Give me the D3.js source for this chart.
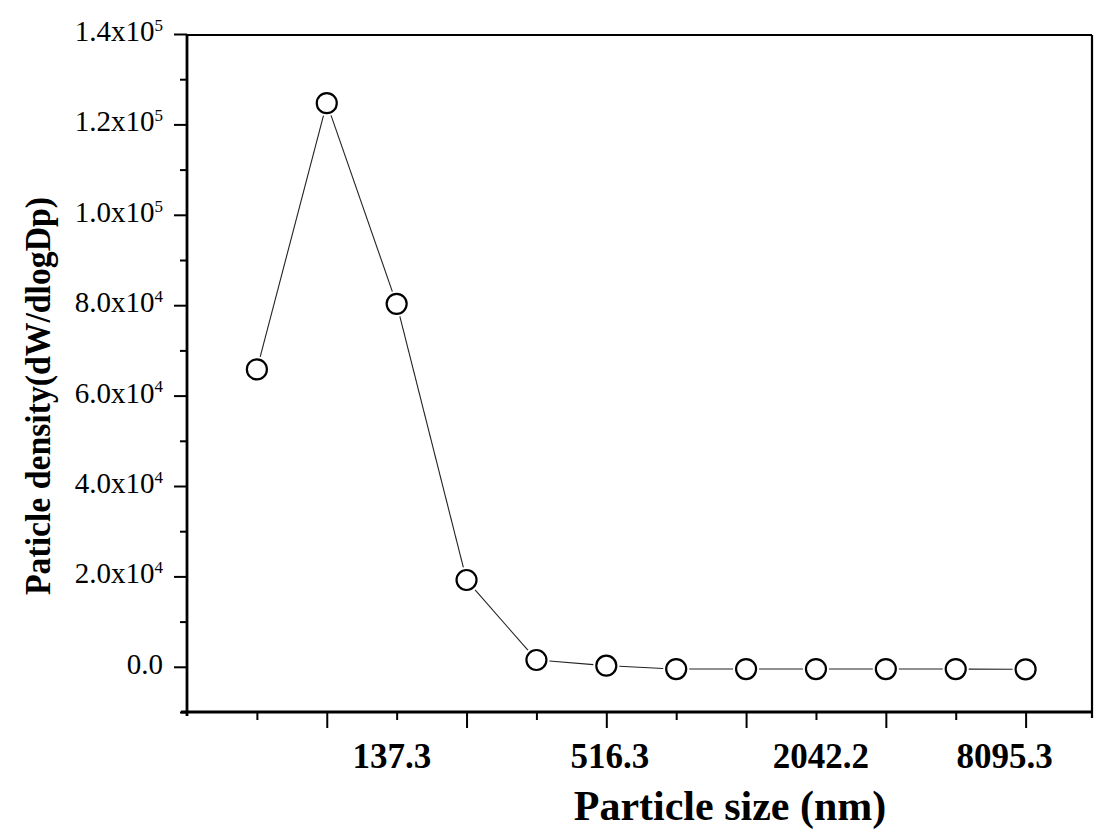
<!DOCTYPE html>
<html>
<head>
<meta charset="utf-8">
<script src="https://cdn.jsdelivr.net/npm/d3@7"></script>
<style>
    body { margin: 0; background: #fff; }
    svg { display: block; }
    .domain { display: none; }
</style>
</head>
<body>
<svg id="chart" width="1098" height="832"></svg>
<script>
d3.select(window).on('load', init);

// one point per impactor stage, x is the stage index
var stage_index = [0, 1, 2, 3, 4, 5, 6, 7, 8, 9, 10, 11];
var density = [65800, 124700, 80300, 19200, 1500, 250, -500, -500, -500, -500, -500, -550];

// labelled sizes and where they sit on the stage axis
var size_labels = ["137.3", "516.3", "2042.2", "8095.3"];
var size_label_pos = [1.93, 5.05, 8.07, 10.7];

var y_major = [0, 20000, 40000, 60000, 80000, 100000, 120000, 140000];
var y_minor = [-10000, 10000, 30000, 50000, 70000, 90000, 110000, 130000];
var y_label_base = ["0.0", "2.0x10", "4.0x10", "6.0x10", "8.0x10", "1.0x10", "1.2x10", "1.4x10"];
var y_label_exp = ["", "4", "4", "4", "4", "5", "5", "5"];

var x_long = [1, 3, 5, 7, 9, 11];
var x_short = [0, 2, 4, 6, 8, 10];

var serif = "'Liberation Serif', 'Times New Roman', serif";

function init() {
    var canvas = d3.select('#chart');

    var plot = {left: 187, right: 1092, top: 35, bottom: 712};

    var xScale = d3.scaleLinear()
        .domain([-1, 11.95])
        .range([plot.left, plot.right]);

    var yScale = d3.scaleLinear()
        .domain([-10000, 140000])
        .range([plot.bottom, plot.top - 1]);

    // frame top + right
    canvas.append("line")
        .attr("x1", plot.left).attr("x2", plot.right)
        .attr("y1", plot.top).attr("y2", plot.top)
        .style("stroke", "#000").style("stroke-width", 2.2);
    canvas.append("line")
        .attr("x1", plot.right).attr("x2", plot.right)
        .attr("y1", plot.top).attr("y2", plot.bottom + 6)
        .style("stroke", "#000").style("stroke-width", 2.2);

    // y ticks
    canvas.append("g")
        .attr("transform", "translate(" + plot.left + ",0)")
        .call(d3.axisLeft(yScale).tickValues(y_major).tickSize(13).tickFormat(""))
        .selectAll("line").style("stroke-width", 2);
    canvas.append("g")
        .attr("transform", "translate(" + plot.left + ",0)")
        .call(d3.axisLeft(yScale).tickValues(y_minor).tickSize(7).tickFormat(""))
        .selectAll("line").style("stroke-width", 2);

    // x ticks
    canvas.append("g")
        .attr("transform", "translate(0," + plot.bottom + ")")
        .call(d3.axisBottom(xScale).tickValues(x_long).tickSize(16).tickFormat(""))
        .selectAll("line").style("stroke-width", 2);
    canvas.append("g")
        .attr("transform", "translate(0," + plot.bottom + ")")
        .call(d3.axisBottom(xScale).tickValues(x_short).tickSize(8).tickFormat(""))
        .selectAll("line").style("stroke-width", 2);

    // axis lines
    canvas.append("line")
        .attr("x1", plot.left).attr("x2", plot.left)
        .attr("y1", plot.top).attr("y2", plot.bottom + 4)
        .style("stroke", "#000").style("stroke-width", 2.8);
    canvas.append("line")
        .attr("x1", plot.left - 6).attr("x2", plot.right)
        .attr("y1", plot.bottom).attr("y2", plot.bottom)
        .style("stroke", "#000").style("stroke-width", 2.8);

    // y tick labels with superscript
    var ylab = canvas.selectAll(".ylab")
        .data(y_major)
        .enter()
        .append("text")
        .attr("class", "ylab")
        .attr("x", 163)
        .attr("y", function(d){ return yScale(d) + 7; })
        .attr("text-anchor", "end")
        .style("font-family", serif)
        .style("font-size", "29px")
        .style("fill", "#000");
    ylab.append("tspan")
        .text(function(d, i){ return y_label_base[i]; });
    ylab.append("tspan")
        .attr("dy", "-0.6em")
        .style("font-size", "17px")
        .text(function(d, i){ return y_label_exp[i]; });

    // x tick labels
    canvas.selectAll(".xlab")
        .data(size_labels)
        .enter()
        .append("text")
        .attr("class", "xlab")
        .attr("x", function(d, i){ return xScale(size_label_pos[i]); })
        .attr("y", 768)
        .attr("text-anchor", "middle")
        .style("font-family", serif)
        .style("font-weight", "bold")
        .style("font-size", "35px")
        .text(function(d){ return d; });

    // axis titles
    canvas.append("text")
        .attr("x", 730)
        .attr("y", 820)
        .attr("text-anchor", "middle")
        .style("font-family", serif)
        .style("font-weight", "bold")
        .style("font-size", "42px")
        .text("Particle size (nm)");

    canvas.append("text")
        .attr("transform", "translate(50,396) rotate(-90)")
        .attr("text-anchor", "middle")
        .attr("textLength", 398)
        .attr("lengthAdjust", "spacingAndGlyphs")
        .style("font-family", serif)
        .style("font-weight", "bold")
        .style("font-size", "36px")
        .text("Paticle density(dW/dlogDp)");

    // connecting segments, stopped short of the markers
    var r = 10;
    var gap = r + 3;
    var segs = d3.range(stage_index.length - 1);
    canvas.selectAll(".seg")
        .data(segs)
        .enter()
        .append("line")
        .attr("class", "seg")
        .each(function(i){
            var x1 = xScale(stage_index[i]), y1 = yScale(density[i]);
            var x2 = xScale(stage_index[i+1]), y2 = yScale(density[i+1]);
            var len = Math.sqrt((x2-x1)*(x2-x1) + (y2-y1)*(y2-y1));
            var ux = (x2-x1)/len, uy = (y2-y1)/len;
            d3.select(this)
                .attr("x1", x1 + ux*gap).attr("y1", y1 + uy*gap)
                .attr("x2", x2 - ux*gap).attr("y2", y2 - uy*gap);
        })
        .style("stroke", "#222")
        .style("stroke-width", 1.1);

    canvas.selectAll("circle")
        .data(stage_index)
        .enter()
        .append("circle")
        .attr("r", r)
        .attr("cx", function(d){ return xScale(d); })
        .attr("cy", function(d, i){ return yScale(density[i]); })
        .style("fill", "#fff")
        .style("stroke", "#000")
        .style("stroke-width", 2.2);
}
</script>
</body>
</html>
